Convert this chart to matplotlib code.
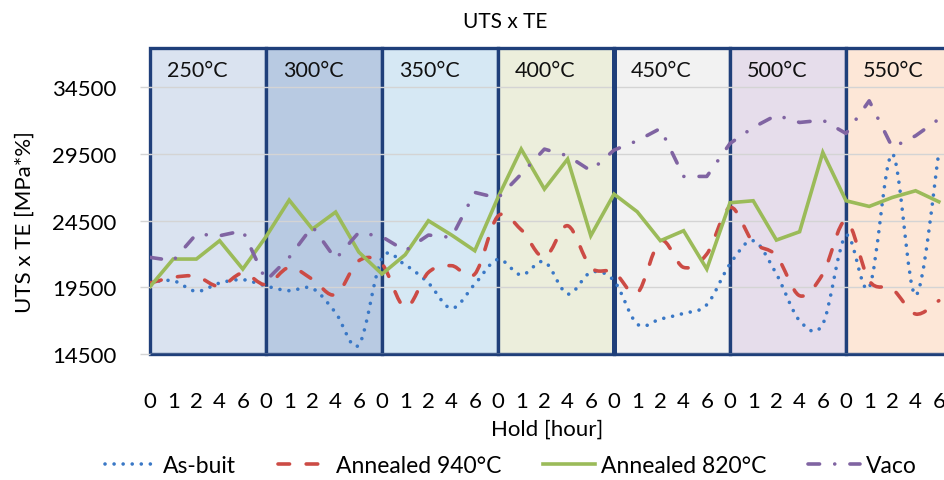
import matplotlib
matplotlib.use('Agg')
import matplotlib.pyplot as plt
from matplotlib.lines import Line2D
from matplotlib.path import Path
from matplotlib.patches import PathPatch

# ---------------- data ----------------
hours = ['0', '1', '2', '4', '6']
groups = ['250°C', '300°C', '350°C', '400°C', '450°C', '500°C', '550°C']

as_built = [19875, 20000, 19200, 19825, 20075,
            19600, 19250, 19425, 17600, 15175,
            21700, 21175, 19825, 17925, 19750,
            21600, 20425, 21425, 19000, 20625,
            20000, 16750, 17125, 17550, 18200,
            21250, 23000, 20500, 17000, 16750,
            23400, 19500, 29500, 18900, 29600]

annealed_940 = [19825, 20250, 20325, 19575, 20575,
                19700, 21000, 20100, 18950, 21500,
                21250, 18000, 20625, 21125, 20500,
                24850, 23825, 21750, 24125, 21000,
                20650, 19075, 23000, 21000, 22000,
                25500, 22875, 21875, 18875, 20500,
                24500, 20000, 19375, 17500, 18500]

annealed_820 = [19550, 21625, 21625, 23000, 20875,
                23300, 26050, 23875, 25150, 22150,
                20500, 21950, 24500, 23425, 22250,
                26250, 29875, 26875, 29125, 23375,
                26500, 25175, 23000, 23750, 20875,
                25850, 26000, 23050, 23675, 29625,
                26000, 25575, 26250, 26750, 25925]

vaco = [21750, 21500, 23500, 23375, 23750,
        20000, 21750, 24075, 21625, 23625,
        23300, 22250, 23425, 23250, 26625,
        26200, 28000, 29875, 29375, 28250,
        29800, 30500, 31425, 27825, 27825,
        30300, 31500, 32425, 31875, 32050,
        31050, 33500, 30000, 30875, 32125]

y_ticks = [14500, 19500, 24500, 29500, 34500]

# ---------------- style ----------------
plt.rcParams['font.family'] = ['Lato', 'DejaVu Sans']
group_colors = ['#DAE3F0', '#B8CAE2', '#D6E8F4', '#ECEEDC', '#F2F2F2', '#E6DDEB', '#FDE7D7']
navy = '#1F3F7A'
c_blue = '#3A78C6'
c_red = '#CC4B45'
c_green = '#9BBB59'
c_purple = '#8064A2'
LW = 2.6
FS = 16.5


def smooth_path(xs, ys):
    """Smoothed (Excel-like) curve through the data points as cubic Beziers."""
    pts = list(zip(xs, ys))
    verts = [pts[0]]
    codes = [Path.MOVETO]
    m = len(pts)
    for i in range(m - 1):
        p0 = pts[i - 1] if i > 0 else pts[i]
        p1 = pts[i]
        p2 = pts[i + 1]
        p3 = pts[i + 2] if i + 2 < m else pts[i + 1]
        c1 = (p1[0] + (p2[0] - p0[0]) / 6, p1[1] + (p2[1] - p0[1]) / 6)
        c2 = (p2[0] - (p3[0] - p1[0]) / 6, p2[1] - (p3[1] - p1[1]) / 6)
        verts += [c1, c2, p2]
        codes += [Path.CURVE4] * 3
    return Path(verts, codes)


fig = plt.figure(figsize=(9.44, 4.81), dpi=100)
W, H = 944, 481
ax = fig.add_axes([150 / W, 1 - 355 / H, (W - 150) / W, (355 - 48.5) / H])

n = len(as_built)
x = list(range(n))

for g, (name, col) in enumerate(zip(groups, group_colors)):
    ax.axvspan(5 * g, 5 * g + 5, ymin=0, ymax=1, facecolor=col, edgecolor=navy,
               lw=2.4, zorder=0, clip_on=False)
    ax.text(5 * g + 0.72, 0.925, name, transform=ax.get_xaxis_transform(),
            fontsize=15.5, ha='left', va='center', color='#111111', zorder=3)
ax.axvline(5 * 4, color=navy, lw=3.6, zorder=0.6)

for v in y_ticks:
    ax.axhline(v, color='#D4D4D4', lw=1.0, zorder=0.5)

styles = [
    (as_built, 'As-buit', c_blue, (0, (0.01, 2.5)), True),
    (annealed_940, 'Annealed 940°C', c_red, (0, (3.2, 4.6)), True),
    (annealed_820, 'Annealed 820°C', c_green, '-', False),
    (vaco, 'Vaco', c_purple, (0, (3.2, 4.2, 0.01, 4.2)), False),
]
handles = []
for data, label, col, ls, smooth in styles:
    if smooth:
        patch = PathPatch(smooth_path(x, data), fill=False, edgecolor=col, lw=LW,
                          linestyle=ls, capstyle='round', joinstyle='round', zorder=2)
        ax.add_patch(patch)
    else:
        ax.plot(x, data, color=col, lw=LW, linestyle=ls, dash_capstyle='round',
                solid_joinstyle='miter', zorder=2)
    handles.append(Line2D([], [], color=col, lw=LW, linestyle=ls,
                          dash_capstyle='round', label=label))

ax.set_xlim(0, (W - 150) / 23.2)
ax.set_ylim(14500, 37500)
ax.set_yticks(y_ticks)
ax.set_yticklabels([str(v) for v in y_ticks])
ax.set_xticks(x)
ax.set_xticklabels(hours * len(groups))
for s in ax.spines.values():
    s.set_visible(False)
ax.tick_params(axis='y', length=7, color='#D4D4D4', width=1, pad=17, labelsize=16)
ax.tick_params(axis='x', length=0, pad=27, labelsize=16)

fig.text(505 / W, 1 - 22 / H, 'UTS x TE', ha='center', va='center', fontsize=15)
fig.text(25 / W, 1 - 222 / H, 'UTS x TE [MPa*%]', ha='center', va='center',
         rotation=90, fontsize=16)
fig.text(547 / W, 1 - 430 / H, 'Hold [hour]', ha='center', va='center', fontsize=16)

fig.legend(handles=handles, loc='center', bbox_to_anchor=(511 / W, 1 - 467 / H),
           ncol=4, frameon=False, fontsize=FS, handlelength=2.3,
           handletextpad=0.25, columnspacing=1.8)

fig.savefig('out.png', dpi=100)
